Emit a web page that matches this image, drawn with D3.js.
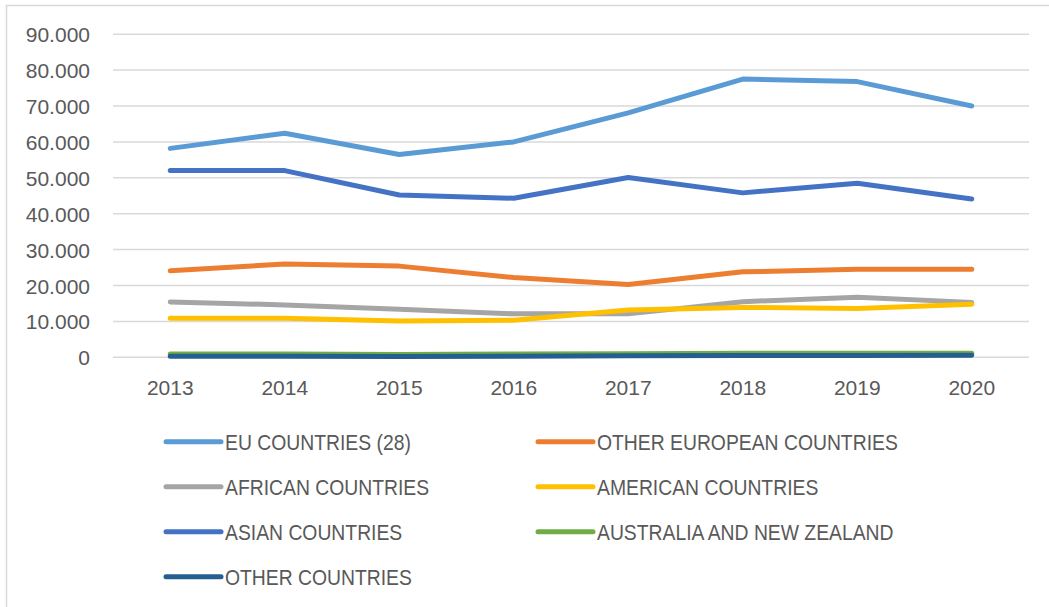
<!DOCTYPE html>
<html>
<head>
<meta charset="utf-8">
<script src="https://cdn.jsdelivr.net/npm/d3@7"></script>
<style>
  body { margin: 0; background: #fff; }
  text { font-family: "Liberation Sans", sans-serif; fill: #595959; }
</style>
</head>
<body>
<div id="root"></div>
<script>
const years = ["2013", "2014", "2015", "2016", "2017", "2018", "2019", "2020"];
const seriesNames = ["EU COUNTRIES (28)", "OTHER EUROPEAN COUNTRIES", "AFRICAN COUNTRIES",
	"AMERICAN COUNTRIES", "ASIAN COUNTRIES", "AUSTRALIA AND NEW ZEALAND", "OTHER COUNTRIES"];
const euValues = [58200, 62400, 56500, 60000, 68100, 77500, 76800, 70000];
const otherEuropeValues = [24100, 26000, 25400, 22200, 20300, 23800, 24500, 24500];
const africaValues = [15400, 14600, 13400, 12100, 12100, 15500, 16700, 15300];
const americaValues = [10900, 10900, 10100, 10300, 13200, 13900, 13600, 14800];
const asiaValues = [52000, 52000, 45200, 44300, 50100, 45800, 48500, 44100];
const australiaValues = [900, 900, 800, 900, 1000, 1100, 1100, 1100];
const otherValues = [300, 300, 200, 300, 400, 500, 500, 600];
const yTicks = [0, 10000, 20000, 30000, 40000, 50000, 60000, 70000, 80000, 90000];

const colors = ["#5B9BD5", "#ED7D31", "#A5A5A5", "#FFC000", "#4472C4", "#70AD47", "#255E91"];
const allValues = [euValues, otherEuropeValues, africaValues, americaValues, asiaValues, australiaValues, otherValues];
const series = seriesNames.map((name, i) => ({ name, color: colors[i], values: allValues[i] }));

const width = 1049, height = 607;
const svg = d3.select("#root").append("svg")
	.attr("width", width)
	.attr("height", height);

// chart border
svg.append("rect")
	.attr("x", 6.5).attr("y", 5.5)
	.attr("width", 1060).attr("height", 620)
	.style("fill", "none")
	.style("stroke", "#d9d9d9")
	.style("stroke-width", 1.5);

const x = d3.scaleBand().domain(years).range([113, 1029]);
const y = d3.scaleLinear().domain([0, 90000]).range([357.3, 34.2]);
const fmt = d3.formatLocale({ decimal: ",", thousands: ".", grouping: [3], currency: ["", ""] }).format(",d");

// gridlines
svg.selectAll(".grid")
	.data(yTicks).enter()
	.append("line")
		.attr("x1", 113).attr("x2", 1029)
		.attr("y1", d => y(d)).attr("y2", d => y(d))
		.style("stroke", "#d9d9d9")
		.style("stroke-width", 1.5);

// y labels
svg.selectAll(".ylab")
	.data(yTicks).enter()
	.append("text")
		.text(d => fmt(d))
		.attr("x", 90)
		.attr("y", d => y(d) + 8)
		.style("font-size", "21px")
		.style("text-anchor", "end");

// x labels
svg.selectAll(".xlab")
	.data(years).enter()
	.append("text")
		.text(d => d)
		.attr("x", d => x(d) + x.bandwidth() / 2)
		.attr("y", 395)
		.style("font-size", "21px")
		.style("text-anchor", "middle");

// lines
const line = d3.line()
	.x((d, i) => x(years[i]) + x.bandwidth() / 2)
	.y(d => y(d));

svg.selectAll(".series")
	.data(series).enter()
	.append("path")
		.attr("d", d => line(d.values))
		.style("fill", "none")
		.style("stroke", d => d.color)
		.style("stroke-width", 5)
		.style("stroke-linecap", "round")
		.style("stroke-linejoin", "round");

// legend
const legendCols = [166, 538];
const legendRows = [441.7, 486.7, 531.7, 576.7];
const legend = svg.selectAll(".legend")
	.data(series).enter()
	.append("g")
		.attr("transform", (d, i) => `translate(${legendCols[i % 2]},${legendRows[Math.floor(i / 2)]})`);
legend.append("line")
	.attr("x1", 0).attr("x2", 55)
	.style("stroke", d => d.color)
	.style("stroke-width", 5)
	.style("stroke-linecap", "round");
legend.append("text")
	.text(d => d.name)
	.attr("transform", "translate(59,8) scale(0.9,1)")
	.style("font-size", "21.5px");
</script>
</body>
</html>
